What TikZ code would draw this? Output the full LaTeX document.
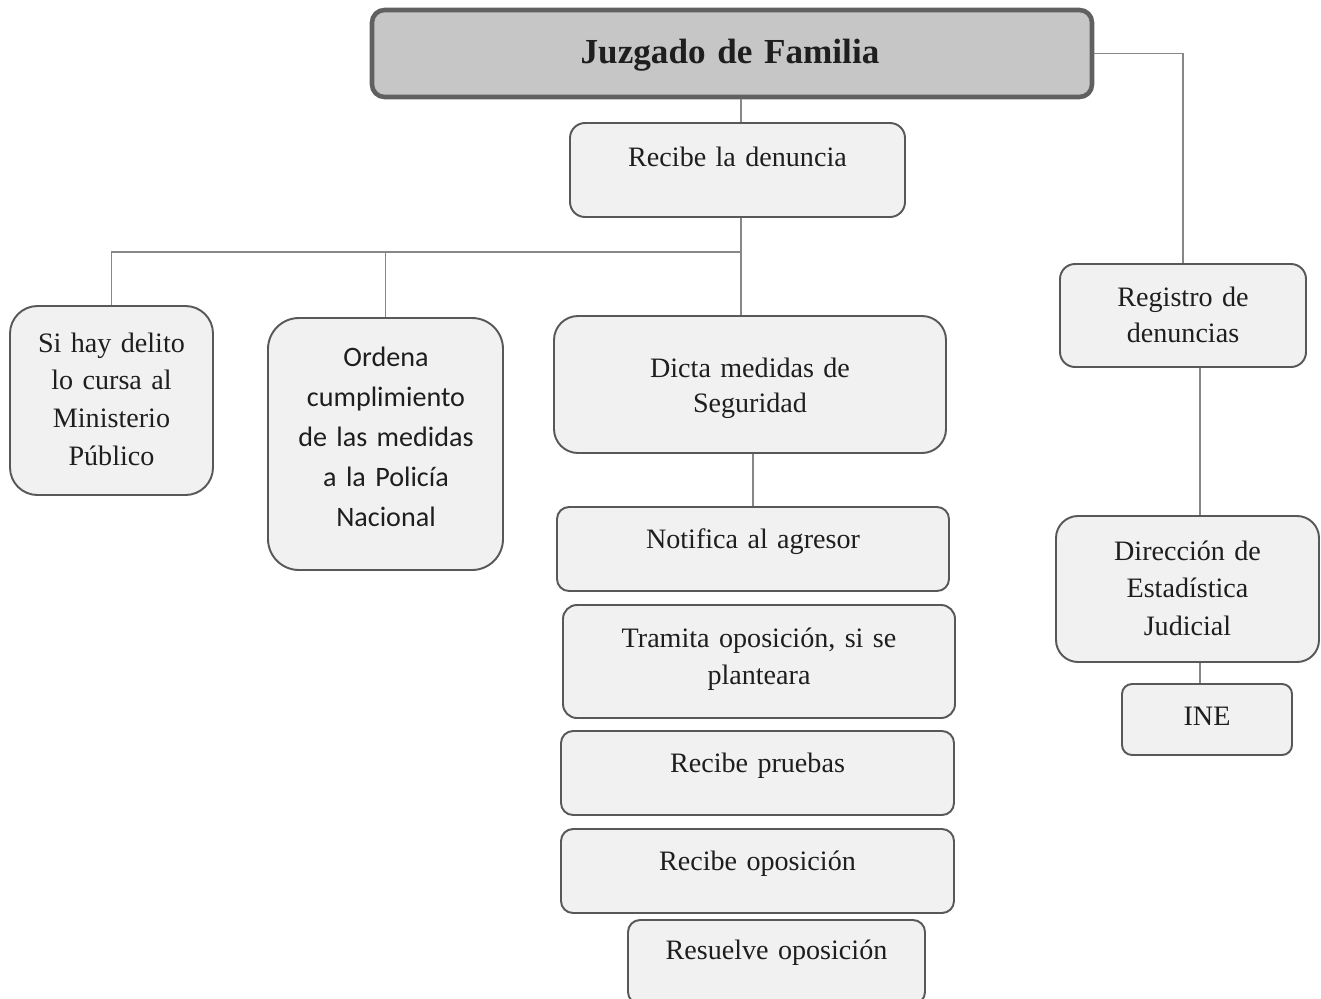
\documentclass[tikz,border=0pt]{standalone}
\usepackage{fontspec}
\setmainfont{Liberation Serif}
\newfontfamily\calibri{Carlito}
\usetikzlibrary{fit}

\definecolor{fondo}{RGB}{241,241,241}
\definecolor{borde}{RGB}{88,88,88}
\definecolor{fondotit}{RGB}{198,198,198}
\definecolor{bordetit}{RGB}{96,96,96}
\definecolor{conector}{RGB}{135,135,135}
\definecolor{tinta}{RGB}{30,30,30}

\tikzset{
  caja/.style={draw=borde, fill=fondo, line width=1.1pt, inner sep=0pt},
  titulo/.style={caja, draw=bordetit, fill=fondotit, line width=2.6pt},
  texto/.style={font=\fontsize{16}{21.5}\selectfont, text=tinta, text width=8cm,
    align=center, inner sep=0pt, anchor=base},
  linea/.style={draw=conector, line width=0.6pt}
}

\begin{document}
\begin{tikzpicture}[x=0.02cm, y=-0.02cm]
\useasboundingbox (0,0) rectangle (1321,998);

% cajas
\node[titulo, rounded corners=0.25cm, fit={(372,10) (1092,97)}] (juzgado) {};
\node[caja, rounded corners=0.3cm, fit={(570,123) (905,217)}] (denuncia) {};
\node[caja, rounded corners=0.55cm, fit={(10,306) (213,495)}] (delito) {};
\node[caja, rounded corners=0.62cm, fit={(268,318) (503,570)}] (ordena) {};
\node[caja, rounded corners=0.48cm, fit={(554,316) (946,453)}] (dicta) {};
\node[caja, rounded corners=0.24cm, fit={(557,507) (949,591)}] (notifica) {};
\node[caja, rounded corners=0.28cm, fit={(563,605) (955,718)}] (tramita) {};
\node[caja, rounded corners=0.24cm, fit={(561,731) (954,815)}] (pruebas) {};
\node[caja, rounded corners=0.24cm, fit={(561,829) (954,913)}] (oposicion) {};
\node[caja, rounded corners=0.24cm, fit={(628,920) (925,1004)}] (resuelve) {};
\node[caja, rounded corners=0.3cm, fit={(1060,264) (1306,367)}] (registro) {};
\node[caja, rounded corners=0.44cm, fit={(1056,516) (1319,662)}] (direccion) {};
\node[caja, rounded corners=0.2cm, fit={(1122,684) (1292,755)}] (ine) {};

% textos
\node[texto, font=\bfseries\fontsize{20}{24}\selectfont] (juzgado-t) at (730,63) {Juzgado de Familia};
\node[texto] (denuncia-t) at (737.5,166) {Recibe la denuncia};
\node[texto, font=\fontsize{16}{21.6}\selectfont] (delito-t) at (111.5,352)
  {Si hay delito\\lo cursa al\\Ministerio\\Público};
\node[texto, font=\calibri\fontsize{16}{22.8}\selectfont] (ordena-t) at (386,366)
  {Ordena\\cumplimiento\\de las medidas\\a la Policía\\Nacional};
\node[texto, font=\fontsize{16}{20}\selectfont] (dicta-t) at (750,377) {Dicta medidas de\\Seguridad};
\node[texto] (notifica-t) at (753,548) {Notifica al agresor};
\node[texto] (tramita-t) at (759,647) {Tramita oposición, si se\\planteara};
\node[texto] (pruebas-t) at (757.5,772) {Recibe pruebas};
\node[texto] (oposicion-t) at (757.5,870) {Recibe oposición};
\node[texto] (resuelve-t) at (776.5,959) {Resuelve oposición};
\node[texto, font=\fontsize{16}{21}\selectfont] (registro-t) at (1183,306) {Registro de\\denuncias};
\node[texto] (direccion-t) at (1187.5,560) {Dirección de\\Estadística\\Judicial};
\node[texto] (ine-t) at (1207,725) {INE};

% conectores
\coordinate (eje) at (741,252);
\coordinate (der) at (1200,0);
\draw[linea] (eje |- juzgado.south) -- (eje |- denuncia.north);
\draw[linea] (eje |- denuncia.south) -- (eje |- dicta.north);
\draw[linea] (delito.north) |- (eje);
\draw[linea] (ordena.north) -- (ordena.north |- eje);
\draw[linea] (notifica.north |- dicta.south) -- (notifica.north);
\draw[linea] (juzgado.east) -| (registro.north);
\draw[linea] (der |- registro.south) -- (der |- direccion.north);
\draw[linea] (der |- direccion.south) -- (der |- ine.north);
\end{tikzpicture}
\end{document}
